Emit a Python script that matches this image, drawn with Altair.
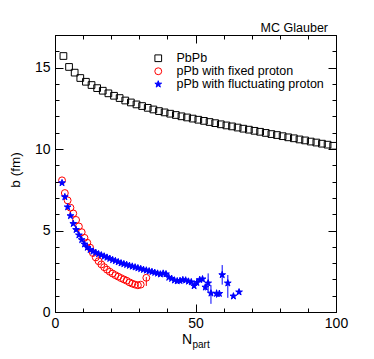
import altair as alt
import pandas as pd

# ---------------- data ----------------
series_names = ["PbPb", "pPb with fixed proton", "pPb with fluctuating proton"]

pbpb_n = [3, 5, 7, 9, 11, 13, 15, 17, 19, 21, 23, 25, 27, 29, 31, 33, 35, 37, 39,
          41, 43, 45, 47, 49, 51, 53, 55, 57, 59, 61, 63, 65, 67, 69, 71, 73, 75,
          77, 79, 81, 83, 85, 87, 89, 91, 93, 95, 97, 99]
pbpb_b = [15.71, 15.04, 14.69, 14.36, 14.13, 13.93, 13.74, 13.58, 13.42, 13.27,
          13.13, 12.98, 12.86, 12.74, 12.64, 12.53, 12.43, 12.33, 12.25, 12.17,
          12.09, 12.01, 11.94, 11.87, 11.80, 11.73, 11.66, 11.59, 11.52, 11.45,
          11.39, 11.32, 11.25, 11.19, 11.12, 11.06, 10.99, 10.92, 10.86, 10.79,
          10.72, 10.66, 10.59, 10.53, 10.46, 10.40, 10.33, 10.27, 10.20]

fixed_n = [2.5, 3.5, 4.5, 5.5, 6.5, 7.5, 8.5, 9.5, 10.5, 11.5, 12.5, 13.5, 14.5,
           15.5, 16.5, 17.5, 18.5, 19.5, 20.5, 21.5, 22.5, 23.5, 24.5, 25.5, 26.5,
           27.5, 28.5, 29.5, 30.5, 32.5]
fixed_b = [8.08, 7.30, 6.85, 6.40, 6.05, 5.65, 5.25, 4.90, 4.55, 4.25, 3.95, 3.62,
           3.35, 3.12, 2.92, 2.75, 2.60, 2.47, 2.36, 2.26, 2.17, 2.08, 2.00, 1.92,
           1.82, 1.74, 1.68, 1.64, 1.68, 2.10]
fixed_err_lo = [0] * 29 + [0.50]
fixed_err_hi = [0] * 29 + [0.05]

fluct_n = [2.5, 3.5, 4.5, 5.5, 6.5, 7.5, 8.5, 9.5, 10.5, 11.5, 12.5, 13.5, 14.5,
           15.5, 16.5, 17.5, 18.5, 19.5, 20.5, 21.5, 22.5, 23.5, 24.5, 25.5, 26.5,
           27.5, 28.5, 29.5, 30.5, 31.5, 32.5, 33.5, 34.5, 35.5, 36.5, 37.5, 38.5,
           39.5, 40.5, 41.5, 42.5, 43.5, 44.5, 45.5, 46.5, 47.5, 48.5, 49.5, 50.5,
           51.5, 52.5, 53.5, 54.5, 55.5, 57.5, 58.5, 59.5, 61.5, 63.5, 65.5]
fluct_b = [7.92, 7.06, 6.44, 5.90, 5.42, 5.05, 4.72, 4.43, 4.16, 3.96, 3.82, 3.72,
           3.64, 3.56, 3.49, 3.42, 3.35, 3.28, 3.20, 3.14, 3.07, 3.00, 2.95, 2.90,
           2.85, 2.80, 2.75, 2.70, 2.65, 2.60, 2.56, 2.51, 2.47, 2.42, 2.37, 2.32,
           2.37, 2.33, 2.12, 2.05, 1.95, 1.90, 1.92, 1.97, 1.95, 1.88, 1.84, 1.60,
           1.80, 1.98, 2.02, 1.52, 1.77, 1.15, 1.13, 1.13, 2.28, 1.77, 0.97, 1.22]
fluct_err_lo = [0] * 47 + [0.10, 0.10, 0.12, 0.15, 0.20, 0.60, 0.65, 0.25, 0.20,
                           0.60, 0.90, 0.10, 0.10]
fluct_err_hi = [0] * 47 + [0.10, 0.10, 0.12, 0.15, 0.20, 0.60, 0.50, 0.25, 0.20,
                           0.60, 0.50, 0.10, 0.10]

x_major = [0, 50, 100]
x_minor = [0, 10, 20, 30, 40, 50, 60, 70, 80, 90, 100]
y_major = [0, 5, 10, 15]
y_minor = list(range(0, 18))

STAR = ("M0,-1L0.225,-0.309L0.951,-0.309L0.363,0.118L0.588,0.809L0,0.382"
        "L-0.588,0.809L-0.363,0.118L-0.951,-0.309L-0.225,-0.309Z")

# ---------------- tables ----------------
pts = pd.concat([
    pd.DataFrame({"n": pbpb_n, "b": pbpb_b, "series": series_names[0]}),
    pd.DataFrame({"n": fixed_n, "b": fixed_b, "series": series_names[1]}),
    pd.DataFrame({"n": fluct_n, "b": fluct_b, "series": series_names[2]}),
], ignore_index=True)

err = pd.concat([
    pd.DataFrame({"n": fixed_n, "b": fixed_b, "lo": fixed_err_lo, "hi": fixed_err_hi,
                  "series": series_names[1]}),
    pd.DataFrame({"n": fluct_n, "b": fluct_b, "lo": fluct_err_lo, "hi": fluct_err_hi,
                  "series": series_names[2]}),
], ignore_index=True)
err = err[(err["lo"] > 0) | (err["hi"] > 0)].copy()
err["y1"] = err["b"] - err["lo"]
err["y2"] = err["b"] + err["hi"]

FONT = "Liberation Sans"
W, H = 281, 277
xs = alt.Scale(domain=[0, 100], nice=False, zero=False)
ys = alt.Scale(domain=[0, 17], nice=False, zero=False)


def tick_axis(orient, values, size):
    return alt.Axis(orient=orient, values=values, tickSize=size, offset=-size,
                    labels=False, domain=False, grid=False, title=None,
                    tickColor="black", tickWidth=1)


legend = alt.Legend(orient="none", legendX=97, legendY=17, title=None,
                    labelFont=FONT, labelFontSize=12.5, labelColor="black",
                    symbolStrokeWidth=1, labelOffset=12,
                    rowPadding=-1.5, padding=0, symbolOpacity=1)

dom = series_names
points = alt.Chart(pts).mark_point(opacity=1, strokeWidth=1).encode(
    x=alt.X("n:Q", scale=xs, axis=alt.Axis(orient="bottom", values=x_major, ticks=False,
                                           tickSize=0, domain=False, grid=False,
                                           labelFont=FONT, labelFontSize=14,
                                           labelColor="black", labelPadding=4,
                                           labelFlush=False, title=None)),
    y=alt.Y("b:Q", scale=ys, axis=alt.Axis(orient="left", values=y_major, ticks=False,
                                           tickSize=0, domain=False, grid=False,
                                           labelFont=FONT, labelFontSize=14,
                                           labelColor="black", labelPadding=5,
                                           labelFlush=False, title=None)),
    shape=alt.Shape("series:N", scale=alt.Scale(domain=dom, range=["square", "circle", STAR]),
                    legend=legend),
    stroke=alt.Stroke("series:N", scale=alt.Scale(domain=dom, range=["#000000", "#ff0000", "#0000ff"]),
                      legend=legend),
    fill=alt.Fill("series:N", scale=alt.Scale(domain=dom, range=["transparent", "transparent", "#0000ff"]),
                  legend=legend),
    size=alt.Size("series:N", scale=alt.Scale(domain=dom, range=[45, 50, 72]),
                  legend=legend),
)

bars = alt.Chart(err).mark_rule(strokeWidth=1).encode(
    x=alt.X("n:Q", scale=xs, axis=tick_axis("bottom", x_major, 8)),
    y=alt.Y("y1:Q", scale=ys, axis=tick_axis("left", y_major, 8)),
    y2="y2:Q",
    color=alt.Color("series:N", scale=alt.Scale(domain=dom[1:], range=["#ff0000", "#0000ff"]),
                    legend=None),
)

ref = pd.DataFrame({"n": pbpb_n, "b": pbpb_b})


def dummy(xa, ya):
    return alt.Chart(ref).mark_point(opacity=0).encode(
        x=alt.X("n:Q", scale=xs, axis=xa), y=alt.Y("b:Q", scale=ys, axis=ya))


d1 = dummy(tick_axis("bottom", x_minor, 4), tick_axis("left", y_minor, 4))
d2 = dummy(tick_axis("top", x_major, 8), tick_axis("right", y_major, 8))
d3 = dummy(tick_axis("top", x_minor, 4), tick_axis("right", y_minor, 4))

txt = pd.DataFrame({"t": ["MC Glauber"]})
title_mc = alt.Chart(txt).mark_text(align="right", baseline="alphabetic", font=FONT,
                                    fontSize=12.5, color="black").encode(
    text="t:N", x=alt.value(273), y=alt.value(-3.5))

yt = pd.DataFrame({"t": ["b (fm)"]})
ytitle = alt.Chart(yt).mark_text(align="center", baseline="alphabetic", font=FONT,
                                 fontSize=13.5, angle=270, color="black").encode(
    text="t:N", x=alt.value(-35.5), y=alt.value(135))

xn = pd.DataFrame({"t": ["N"]})
xtitle_n = alt.Chart(xn).mark_text(align="right", baseline="alphabetic", font=FONT,
                                   fontSize=14, color="black").encode(
    text="t:N", x=alt.value(137), y=alt.value(309))
xp = pd.DataFrame({"t": ["part"]})
xtitle_p = alt.Chart(xp).mark_text(align="left", baseline="alphabetic", font=FONT,
                                   fontSize=10, color="black").encode(
    text="t:N", x=alt.value(137.5), y=alt.value(312.5))

chart = alt.layer(points, bars, d1, d2, d3, title_mc, ytitle, xtitle_n, xtitle_p).resolve_axis(
    x="independent", y="independent"
).resolve_scale(color="independent").properties(
    width=W, height=H,
    autosize=alt.AutoSizeParams(type="none"),
    padding={"left": 47, "top": 27, "right": 20, "bottom": 39},
    background="white",
).configure_view(stroke="black", strokeWidth=1)

chart.save("out.html", embed_options={"renderer": "svg", "actions": False})
